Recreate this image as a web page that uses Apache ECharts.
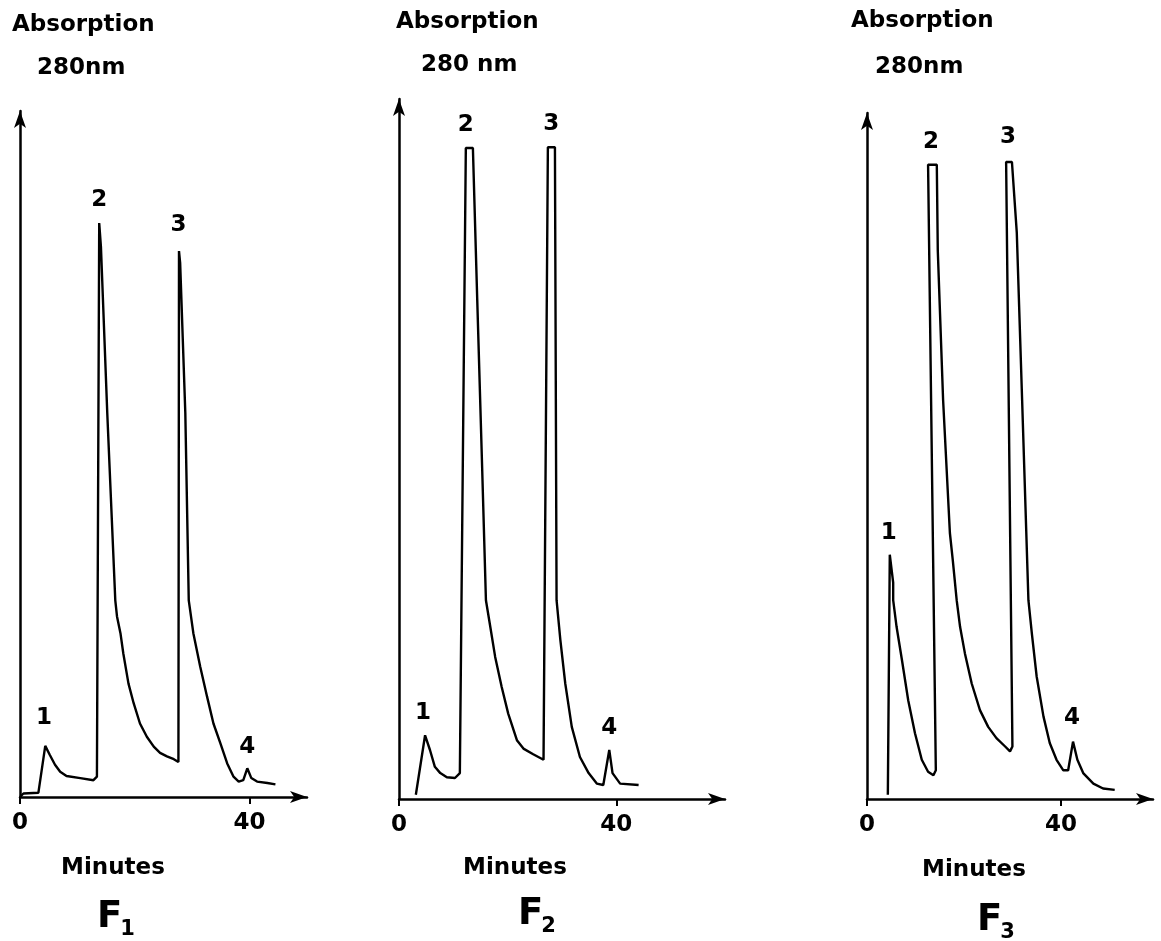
<!DOCTYPE html>
<html>
<head>
<meta charset="utf-8">
<script src="https://cdn.jsdelivr.net/npm/echarts@6/dist/echarts.min.js"></script>
<style>
html,body{margin:0;padding:0;background:#fff;}
#chart{width:1161px;height:941px;}
</style>
</head>
<body>
<div id="chart"></div>
<script>
// ---- Data (minutes, absorption in arbitrary units) ----
var xTicks = [0, 40];
var peakNames = ['1', '2', '3', '4'];

var f1Time = [0, 0.6, 3.2, 4.4, 5.2, 6.1, 7.0, 8.1, 10.5, 12.8, 13.4, 13.8, 14.1, 15.2, 16.6, 16.9, 17.5, 18.0, 18.9, 19.8, 20.9, 22.1, 23.3, 24.4, 25.6, 26.8, 27.6, 27.7, 27.9, 28.8, 29.4, 30.2, 31.4, 32.6, 33.7, 34.9, 36.1, 37.2, 38.1, 38.9, 39.6, 40.3, 41.3, 43.1, 44.5];
var f1Abs  = [0, 0.5, 0.6, 7.3, 6.0, 4.6, 3.6, 3.0, 2.7, 2.4, 2.9, 82.0, 78.6, 54.9, 28.1, 25.8, 23.4, 20.5, 16.2, 13.4, 10.5, 8.6, 7.2, 6.3, 5.8, 5.4, 5.0, 78.0, 76.3, 54.9, 28.1, 23.4, 18.6, 14.3, 10.5, 7.7, 4.8, 2.9, 2.2, 2.4, 4.1, 2.7, 2.2, 2.0, 1.8];
var f1PeakX = [4.2, 13.8, 27.6, 39.6];
var f1PeakY = [11.3, 85.3, 81.7, 7.1];

var f2Time = [3.1, 4.8, 5.7, 6.6, 7.6, 8.8, 10.3, 11.2, 12.3, 13.6, 14.4, 15.3, 16.0, 16.8, 17.7, 18.9, 20.1, 21.7, 22.9, 24.7, 26.6, 27.4, 28.7, 29.0, 29.7, 30.6, 31.8, 33.3, 34.9, 36.4, 37.6, 38.7, 39.3, 40.7, 44.1];
var f2Abs  = [0.6, 9.1, 7.0, 4.6, 3.7, 3.1, 3.0, 3.7, 93.0, 93.0, 71.3, 47.4, 28.4, 24.6, 20.3, 16.0, 12.2, 8.4, 7.2, 6.4, 5.6, 93.1, 93.1, 28.4, 22.7, 16.5, 10.3, 6.0, 3.7, 2.2, 2.0, 7.0, 3.7, 2.2, 2.0];
var f2PeakX = [4.4, 12.3, 28.0, 38.7];
var f2PeakY = [12.3, 96.3, 96.4, 10.1];

var f3Time = [4.3, 4.7, 5.4, 5.4, 6.1, 7.2, 8.5, 9.9, 11.3, 12.6, 13.7, 14.2, 12.6, 14.4, 14.6, 15.7, 17.1, 17.7, 18.5, 19.2, 20.2, 21.6, 23.3, 25.0, 26.7, 28.5, 29.5, 30.0, 28.7, 29.9, 30.9, 32.0, 33.3, 34.0, 35.0, 36.4, 37.7, 39.1, 40.5, 41.5, 42.5, 43.4, 44.6, 46.7, 48.7, 51.1];
var f3Abs  = [0.6, 34.9, 30.9, 28.4, 24.6, 19.9, 14.1, 9.4, 5.6, 3.9, 3.4, 4.1, 90.6, 90.6, 78.4, 57.0, 38.0, 34.1, 28.4, 24.6, 20.8, 16.5, 12.7, 10.3, 8.7, 7.5, 6.8, 7.5, 91.0, 91.0, 80.9, 57.0, 28.4, 23.7, 17.5, 11.8, 8.0, 5.6, 4.1, 4.1, 8.2, 5.6, 3.7, 2.2, 1.5, 1.3];
var f3PeakX = [4.5, 13.2, 29.1, 42.3];
var f3PeakY = [38.0, 93.9, 94.6, 11.6];

var panelTitles = ['1', '2', '3'];
var yTitle = 'Absorption';
var waveTexts = ['280nm', '280 nm', '280nm'];
var xTitle = 'Minutes';

// ---- Build ----
function pairs(xs, ys) { return xs.map(function (x, i) { return [x, ys[i]]; }); }
function labelPts(xs, ys) { return xs.map(function (x, i) { return [x, ys[i], peakNames[i]]; }); }

var FONT = '"DejaVu Sans", "Liberation Sans", sans-serif';
var panels = [
  {left: 20,  top: 111, width: 287, height: 686, xMax: 50, yMax: 98,  t: f1Time, a: f1Abs, px: f1PeakX, py: f1PeakY},
  {left: 399, top: 99,  width: 326, height: 700, xMax: 60, yMax: 100, t: f2Time, a: f2Abs, px: f2PeakX, py: f2PeakY},
  {left: 867, top: 113, width: 286, height: 686, xMax: 59, yMax: 98,  t: f3Time, a: f3Abs, px: f3PeakX, py: f3PeakY}
];

var grids = [], xAxes = [], yAxes = [], series = [];
panels.forEach(function (p, i) {
  grids.push({left: p.left, top: p.top, width: p.width, height: p.height, containLabel: false});
  xAxes.push({
    type: 'value', gridIndex: i, min: 0, max: p.xMax, interval: 40,
    axisLine: {show: true, lineStyle: {color: '#000', width: 2.5}, symbol: ['none', 'arrow'], symbolSize: [9, 17]},
    axisTick: {show: true, length: 7, lineStyle: {color: '#000', width: 2}, customValues: xTicks},
    axisLabel: {show: true, customValues: xTicks, color: '#000', fontSize: 23, fontWeight: 'bold', fontFamily: FONT, margin: 15},
    splitLine: {show: false}
  });
  yAxes.push({
    type: 'value', gridIndex: i, min: 0, max: p.yMax,
    axisLine: {show: true, lineStyle: {color: '#000', width: 2.5}, symbol: ['none', 'arrow'], symbolSize: [9, 17]},
    axisTick: {show: false}, axisLabel: {show: false}, splitLine: {show: false}
  });
  series.push({
    type: 'line', xAxisIndex: i, yAxisIndex: i, data: pairs(p.t, p.a),
    showSymbol: false, symbol: 'none', smooth: false,
    lineStyle: {color: '#000', width: 2.4}, silent: true, animation: false
  });
  series.push({
    type: 'scatter', xAxisIndex: i, yAxisIndex: i, data: labelPts(p.px, p.py),
    symbolSize: 1, itemStyle: {color: 'rgba(0,0,0,0)', opacity: 1}, silent: true, animation: false,
    label: {show: true, position: 'inside', formatter: function (d) { return d.value[2]; },
      color: '#000', opacity: 1, fontSize: 23, fontWeight: 'bold', fontFamily: FONT}
  });
});

var graphics = [];
var absX = [12, 396, 851], absY = [28, 25, 24];
var waveX = [37, 421, 875], waveY = [71, 68, 70];
var minX = [113, 515, 974], minY = [868, 868, 870];
var fX = [97, 518, 977], fY = [917, 914, 920];
for (var i = 0; i < 3; i++) {
  graphics.push({type: 'text', left: absX[i], top: absY[i] - 14,
    style: {text: yTitle, fill: '#000', font: 'bold 23px ' + FONT}});
  graphics.push({type: 'text', left: waveX[i], top: waveY[i] - 14,
    style: {text: waveTexts[i], fill: '#000', font: 'bold 23px ' + FONT}});
  graphics.push({type: 'text', x: minX[i], y: minY[i],
    style: {text: xTitle, fill: '#000', font: 'bold 23px ' + FONT, align: 'center', verticalAlign: 'middle'}});
  graphics.push({type: 'text', x: fX[i], y: fY[i],
    style: {text: '{f|F}{s|' + panelTitles[i] + '}', fill: '#000', verticalAlign: 'middle',
      rich: {f: {font: 'bold 37px ' + FONT, fill: '#000'},
             s: {font: 'bold 21px ' + FONT, fill: '#000', verticalAlign: 'bottom', padding: [26, 0, 0, -2]}}}});
}

var chart = echarts.init(document.getElementById('chart'), null, {renderer: 'canvas'});
chart.setOption({
  backgroundColor: '#fff',
  animation: false,
  grid: grids, xAxis: xAxes, yAxis: yAxes, series: series,
  graphic: graphics
});
</script>
</body>
</html>
